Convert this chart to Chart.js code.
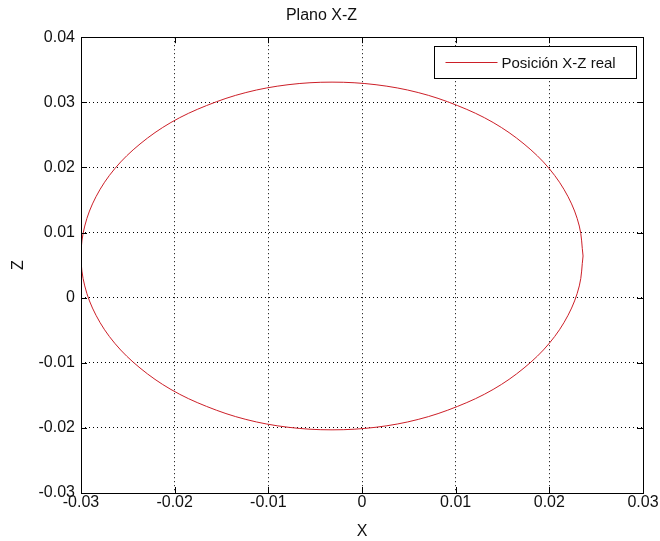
<!DOCTYPE html>
<html>
<head>
<meta charset="utf-8">
<script src="https://cdn.jsdelivr.net/npm/chart.js@4/dist/chart.umd.min.js"></script>
<style>
  html, body { margin: 0; padding: 0; background: #fff; }
  #wrap { width: 660px; height: 541px; }
</style>
</head>
<body>
<div id="wrap"><canvas id="plot"></canvas></div>
<script>
// points (X, Z), going round the curve
const xVals = [0.0236, 0.0232, 0.0220, 0.0200, 0.0173, 0.0140, 0.0102, 0.0060, 0.0015, -0.0032,
               -0.0079, -0.0124, -0.0166, -0.0204, -0.0237, -0.0264, -0.0284, -0.0296, -0.0300,
               -0.0296, -0.0284, -0.0264, -0.0237, -0.0204, -0.0166, -0.0124, -0.0079, -0.0032,
               0.0015, 0.0060, 0.0102, 0.0140, 0.0173, 0.0200, 0.0220, 0.0232, 0.0236];
const zVals = [0.0064, 0.0110, 0.0155, 0.0198, 0.0236, 0.0269, 0.0295, 0.0315, 0.0327, 0.0331,
               0.0327, 0.0315, 0.0295, 0.0269, 0.0236, 0.0198, 0.0155, 0.0110, 0.0064,
               0.0018, -0.0027, -0.0070, -0.0108, -0.0141, -0.0167, -0.0187, -0.0199, -0.0203,
               -0.0199, -0.0187, -0.0167, -0.0141, -0.0108, -0.0070, -0.0027, 0.0018, 0.0064];
const xTicks = [-0.03, -0.02, -0.01, 0, 0.01, 0.02, 0.03];
const zTicks = [-0.03, -0.02, -0.01, 0, 0.01, 0.02, 0.03, 0.04];
const seriesLabel = 'Posición X-Z real';

const FONT = '"Liberation Sans", Arial, sans-serif';
const FSIZE = 16;
const lineColor = '#cc1f28';

function fmt(v) {
    if (Math.abs(v) < 1e-9) return '0';
    return v.toFixed(2);
}

// box around the plot, inward ticks and the legend, like the original
const boxPlugin = {
    id: 'box',
    afterDatasetsDraw(chart) {
        const ctx = chart.ctx;
        const a = chart.chartArea;
        const xs = chart.scales.x, ys = chart.scales.y;
        ctx.save();
        ctx.strokeStyle = '#000';
        ctx.lineWidth = 1;
        ctx.strokeRect(Math.round(a.left) + 0.5, Math.round(a.top) + 0.5,
                       Math.round(a.right - a.left), Math.round(a.bottom - a.top));
        ctx.beginPath();
        xTicks.forEach(function(t) {
            const px = Math.round(xs.getPixelForValue(t)) + 0.5;
            ctx.moveTo(px, a.bottom); ctx.lineTo(px, a.bottom - 6);
            ctx.moveTo(px, a.top); ctx.lineTo(px, a.top + 6);
        });
        zTicks.forEach(function(t) {
            const py = Math.round(ys.getPixelForValue(t)) + 0.5;
            ctx.moveTo(a.left, py); ctx.lineTo(a.left + 6, py);
            ctx.moveTo(a.right, py); ctx.lineTo(a.right - 6, py);
        });
        ctx.stroke();

        // legend box
        const lx = 434.5, ly = 46.5, lw = 202, lh = 32;
        ctx.fillStyle = '#fff';
        ctx.fillRect(lx, ly, lw, lh);
        ctx.strokeStyle = '#000';
        ctx.strokeRect(lx, ly, lw, lh);
        ctx.strokeStyle = lineColor;
        ctx.beginPath();
        ctx.moveTo(lx + 11, ly + 16); ctx.lineTo(lx + 63, ly + 16);
        ctx.stroke();
        ctx.fillStyle = '#111';
        ctx.font = '15px ' + FONT;
        ctx.textBaseline = 'middle';
        ctx.fillText(seriesLabel, lx + 67, ly + 17);
        ctx.restore();
    }
};

const ctx = document.getElementById('plot').getContext('2d');
const chart = new Chart(ctx, {
    type: 'scatter',
    data: {
        datasets: [{
            label: seriesLabel,
            data: xVals.map(function(x, i) { return { x: x, y: zVals[i] }; }),
            showLine: true,
            borderColor: lineColor,
            borderWidth: 1,
            pointRadius: 0,
            tension: 0.35,
            fill: false
        }]
    },
    options: {
        responsive: true,
        maintainAspectRatio: false,
        animation: false,
        layout: { padding: { left: 0, right: 17, top: 0, bottom: 0 } },
        plugins: {
            legend: { display: false },
            tooltip: { enabled: false },
            title: {
                display: true,
                text: 'Plano X-Z',
                color: '#111',
                font: { family: FONT, size: FSIZE, weight: 'normal' },
                padding: { top: 6, bottom: 12 }
            }
        },
        scales: {
            x: {
                type: 'linear',
                min: -0.03,
                max: 0.03,
                afterBuildTicks: function(s) { s.ticks = xTicks.map(function(v) { return { value: v }; }); },
                afterFit: function(s) { s.height = 48; },
                ticks: {
                    callback: fmt,
                    color: '#111',
                    font: { family: FONT, size: FSIZE },
                    padding: 0,
                    maxRotation: 0
                },
                grid: {
                    color: '#000',
                    lineWidth: 1,
                    drawTicks: false,
                    tickLength: 0
                },
                border: { display: false, dash: [1, 3] },
                title: {
                    display: true,
                    text: 'X',
                    color: '#111',
                    font: { family: FONT, size: FSIZE },
                    padding: { top: 0, bottom: 0 }
                }
            },
            y: {
                type: 'linear',
                min: -0.03,
                max: 0.04,
                afterBuildTicks: function(s) { s.ticks = zTicks.map(function(v) { return { value: v }; }); },
                afterFit: function(s) { s.width = 81; },
                ticks: {
                    callback: fmt,
                    color: '#111',
                    font: { family: FONT, size: FSIZE },
                    padding: 6
                },
                grid: {
                    color: '#000',
                    lineWidth: 1,
                    drawTicks: false,
                    tickLength: 0
                },
                border: { display: false, dash: [1, 3] },
                title: {
                    display: true,
                    text: 'Z',
                    color: '#111',
                    font: { family: FONT, size: FSIZE },
                    padding: { top: 9, bottom: 0 }
                }
            }
        }
    },
    plugins: [boxPlugin]
});
</script>
</body>
</html>
